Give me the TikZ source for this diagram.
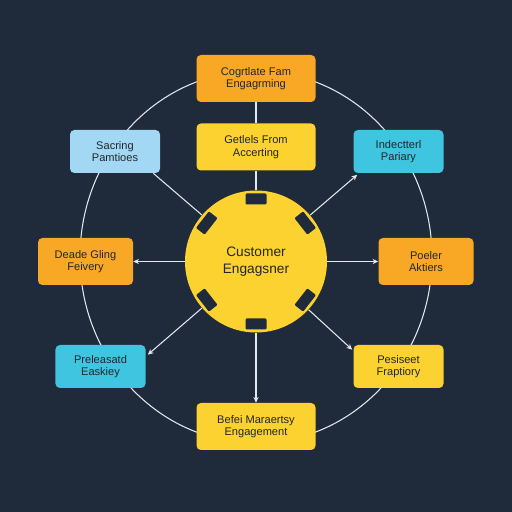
\documentclass[tikz,border=0pt]{standalone}
\usepackage{fontspec}
\setmainfont{Liberation Sans}
\usepackage{tikz}
\usetikzlibrary{arrows.meta,positioning,calc}

\definecolor{bgnavy}{HTML}{1F2A3B}
\definecolor{boxorange}{HTML}{F8A824}
\definecolor{boxyellow}{HTML}{FBD22F}
\definecolor{boxsky}{HTML}{A3D8F4}
\definecolor{boxcyan}{HTML}{3FC5E0}
\definecolor{inkdark}{HTML}{23262B}
\definecolor{wire}{HTML}{E4E8EE}

\begin{document}
\begin{tikzpicture}[
  >={Stealth[length=3.2pt,width=3pt]},
  box/.style={rectangle,rounded corners=2.5pt,align=center,text=inkdark,
    font=\fontsize{6.3}{7.1}\selectfont,inner sep=1pt},
  wide/.style={box,minimum width=2.38cm,minimum height=0.94cm},
  side/.style={box,minimum width=1.9cm,minimum height=0.94cm},
  slim/.style={box,minimum width=1.8cm,minimum height=0.86cm},
  link/.style={draw=wire,line width=0.6pt},
  notch/.style={fill=bgnavy,rounded corners=0.6pt,minimum width=0.42cm,minimum height=0.22cm,inner sep=0pt}
]
\fill[bgnavy] (0,0) rectangle (10.24,10.24);
\useasboundingbox (0,0) rectangle (10.24,10.24);

% outer ring behind the boxes
\draw[wire,line width=0.6pt] (5.12,5.10) ellipse (3.52cm and 3.72cm);

\node[wide,fill=boxorange] (cog) at (5.12,8.67){Cogrtlate Fam\\Engagrming};
\node[wide,fill=boxyellow] (get) at (5.12,7.30){Getlels From\\Accerting};
\node[slim,fill=boxsky] (sac) at (2.30,7.21){Sacring\\Pamtioes};
\node[slim,fill=boxcyan] (ind) at (7.97,7.21){Indectterl\\Pariary};
\node[side,fill=boxorange] (dea) at (1.71,5.01){Deade Gling\\Feivery};
\node[side,fill=boxorange] (poe) at (8.52,5.01){Poeler\\Aktiers};
\node[slim,fill=boxcyan] (pre) at (2.01,2.91){Preleasatd\\Easkiey};
\node[slim,fill=boxyellow] (pes) at (7.97,2.91){Pesiseet\\Fraptiory};
\node[wide,fill=boxyellow] (bef) at (5.12,1.71){Befei Maraertsy\\Engagement};

% hub
\node[circle,fill=boxyellow,minimum size=2.84cm,inner sep=0pt,align=center,
  text=inkdark,font=\fontsize{7.8}{10}\selectfont] (hub) at (5.12,5.01){Customer\\Engagsner};
\foreach \a in {90,270,38,142,218,322}
  \node[notch,rotate=\a-90] at ($(hub.center)+(\a:1.25)$) {};

\draw[link] (get) -- (cog);
\draw[link] (hub) -- (get);
\draw[link] (hub) -- ([xshift=-0.14cm]sac.south east);
\draw[link,->] (hub) -- ([xshift=0.08cm,yshift=-0.03cm]ind.south west);
\draw[link,->] (dea.east -| hub.west) -- (dea);
\draw[link,->] (poe.west -| hub.east) -- (poe);
\draw[link,->] (hub) -- ([xshift=0.04cm,yshift=-0.2cm]pre.north east);
\draw[link,->] (hub) -- ([xshift=-0.02cm,yshift=-0.1cm]pes.north west);
\draw[link,->] (hub) -- (bef);
\end{tikzpicture}
\end{document}
